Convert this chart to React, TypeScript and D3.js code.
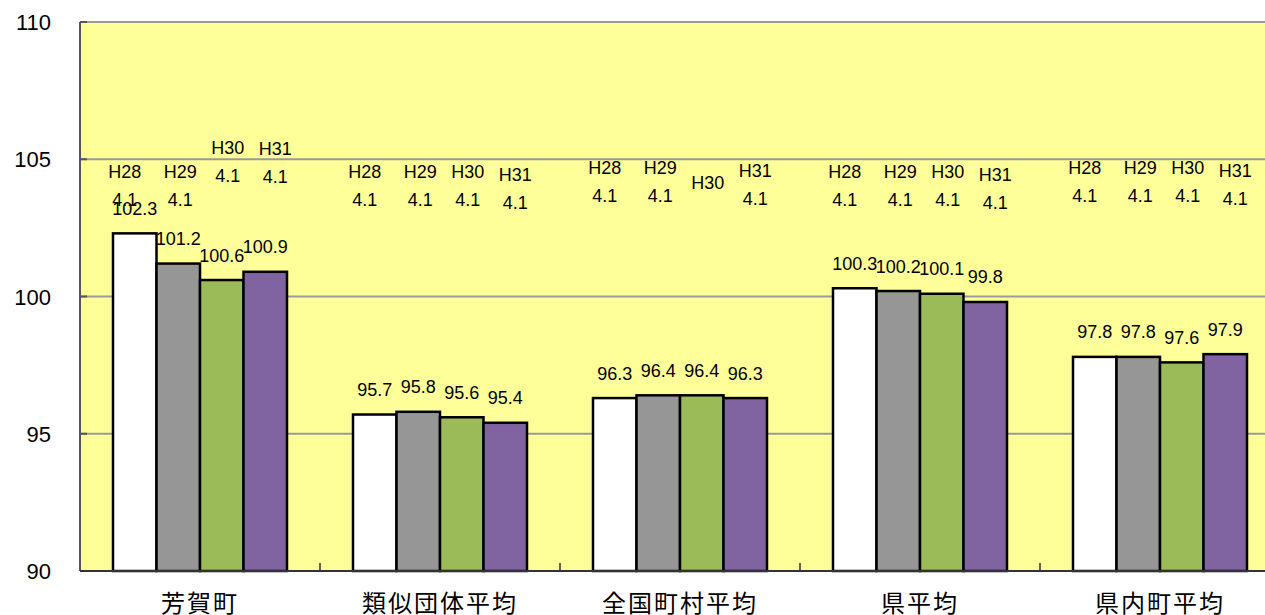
import React from "react";
import * as d3 from "d3";

const categories = ["芳賀町", "類似団体平均", "全国町村平均", "県平均", "県内町平均"];
const seriesNames = ["H28", "H29", "H30", "H31"];
const seriesColors = ["#FFFFFF", "#969696", "#9BBB59", "#8064A2"];
const H28 = [102.3, 95.7, 96.3, 100.3, 97.8];
const H29 = [101.2, 95.8, 96.4, 100.2, 97.8];
const H30 = [100.6, 95.6, 96.4, 100.1, 97.6];
const H31 = [100.9, 95.4, 96.3, 99.8, 97.9];
const seriesValues = [H28, H29, H30, H31];
// stray "H?? / 4.1" labels: height (in axis units) where each sits
const H28LabelLevel = [104.55, 104.55, 104.71, 104.55, 104.71];
const H29LabelLevel = [104.55, 104.55, 104.71, 104.55, 104.71];
const H30LabelLevel = [105.44, 104.55, 104.16, 104.55, 104.71];
const H31LabelLevel = [105.4, 104.45, 104.58, 104.45, 104.58];
const labelLevels = [H28LabelLevel, H29LabelLevel, H30LabelLevel, H31LabelLevel];
const dateText = "4.1";
const dateShown = [
  [true, true, true, true, true],
  [true, true, true, true, true],
  [true, true, false, true, true],
  [true, true, true, true, true],
];
const yTicks = [90, 95, 100, 105, 110];

const W = 1265;
const H = 615;
const left = 80;
const plotRight = 1280;
const top = 22;
const bottom = 571;
const labelNudge = [-10, 2, 6, 10];

export default function App() {
  const y = d3.scaleLinear().domain([90, 110]).range([bottom, top]);
  const x0 = d3
    .scaleBand<string>()
    .domain(categories)
    .range([left, plotRight])
    .paddingInner(0.275)
    .paddingOuter(0.1375);
  const x1 = d3
    .scaleBand<string>()
    .domain(seriesNames)
    .range([0, x0.bandwidth()]);
  const step = x0.step();
  const font = "'Liberation Sans', Arial, sans-serif";

  return (
    <svg
      width={W}
      height={H}
      style={{ position: "absolute", left: 0, top: 0, background: "#fff" }}
    >
      <rect x={left} y={top} width={plotRight - left} height={bottom - top} fill="#FFFF99" />
      {yTicks.map((t) => (
        <g key={t}>
          {t !== 90 && (
            <line x1={left} x2={plotRight} y1={y(t)} y2={y(t)} stroke="#9A9A9A" strokeWidth={2} />
          )}
          <line x1={left} x2={left + 7} y1={y(t)} y2={y(t)} stroke="#555" strokeWidth={2} />
          <text
            x={51}
            y={y(t) + 8}
            textAnchor="end"
            fontFamily={font}
            fontSize={22}
            fill="#000"
          >
            {t}
          </text>
        </g>
      ))}
      {categories.map((c, ci) => (
        <g key={c}>
          {seriesNames.map((s, si) => {
            const v = seriesValues[si][ci];
            const bx = (x0(c) as number) + (x1(s) as number);
            return (
              <rect
                key={s}
                x={bx}
                y={y(v)}
                width={x1.bandwidth()}
                height={bottom - y(v)}
                fill={seriesColors[si]}
                stroke="#000"
                strokeWidth={2.5}
              />
            );
          })}
        </g>
      ))}
      <line x1={left} x2={left} y1={top} y2={bottom} stroke="#555" strokeWidth={2} />
      <line x1={left} x2={plotRight} y1={bottom} y2={bottom} stroke="#333" strokeWidth={2} />
      {categories.map((c, ci) =>
        ci > 0 ? (
          <line
            key={"tk" + c}
            x1={(x0(c) as number) - step * 0.1375}
            x2={(x0(c) as number) - step * 0.1375}
            y1={bottom}
            y2={bottom - 8}
            stroke="#333"
            strokeWidth={1.5}
          />
        ) : null
      )}
      {categories.map((c, ci) => (
        <g key={"lbl" + c}>
          {seriesNames.map((s, si) => {
            const v = seriesValues[si][ci];
            const cx = (x0(c) as number) + (x1(s) as number) + x1.bandwidth() / 2;
            const lv = y(labelLevels[si][ci]);
            return (
              <g key={s} fontFamily={font} fontSize={18} fill="#000" textAnchor="middle">
                <text x={cx} y={y(v) - 18.5}>
                  {v.toFixed(1)}
                </text>
                <text x={cx + labelNudge[si]} y={lv + 6.5}>
                  {s}
                </text>
                {dateShown[si][ci] && (
                  <text x={cx + labelNudge[si]} y={lv + 34.5}>
                    {dateText}
                  </text>
                )}
              </g>
            );
          })}
          <text
            x={(x0(c) as number) + x0.bandwidth() / 2}
            y={612}
            textAnchor="middle"
            fontFamily="'Noto Sans CJK JP', sans-serif"
            fontSize={24}
            letterSpacing={2}
            fill="#000"
          >
            {c}
          </text>
        </g>
      ))}
    </svg>
  );
}
